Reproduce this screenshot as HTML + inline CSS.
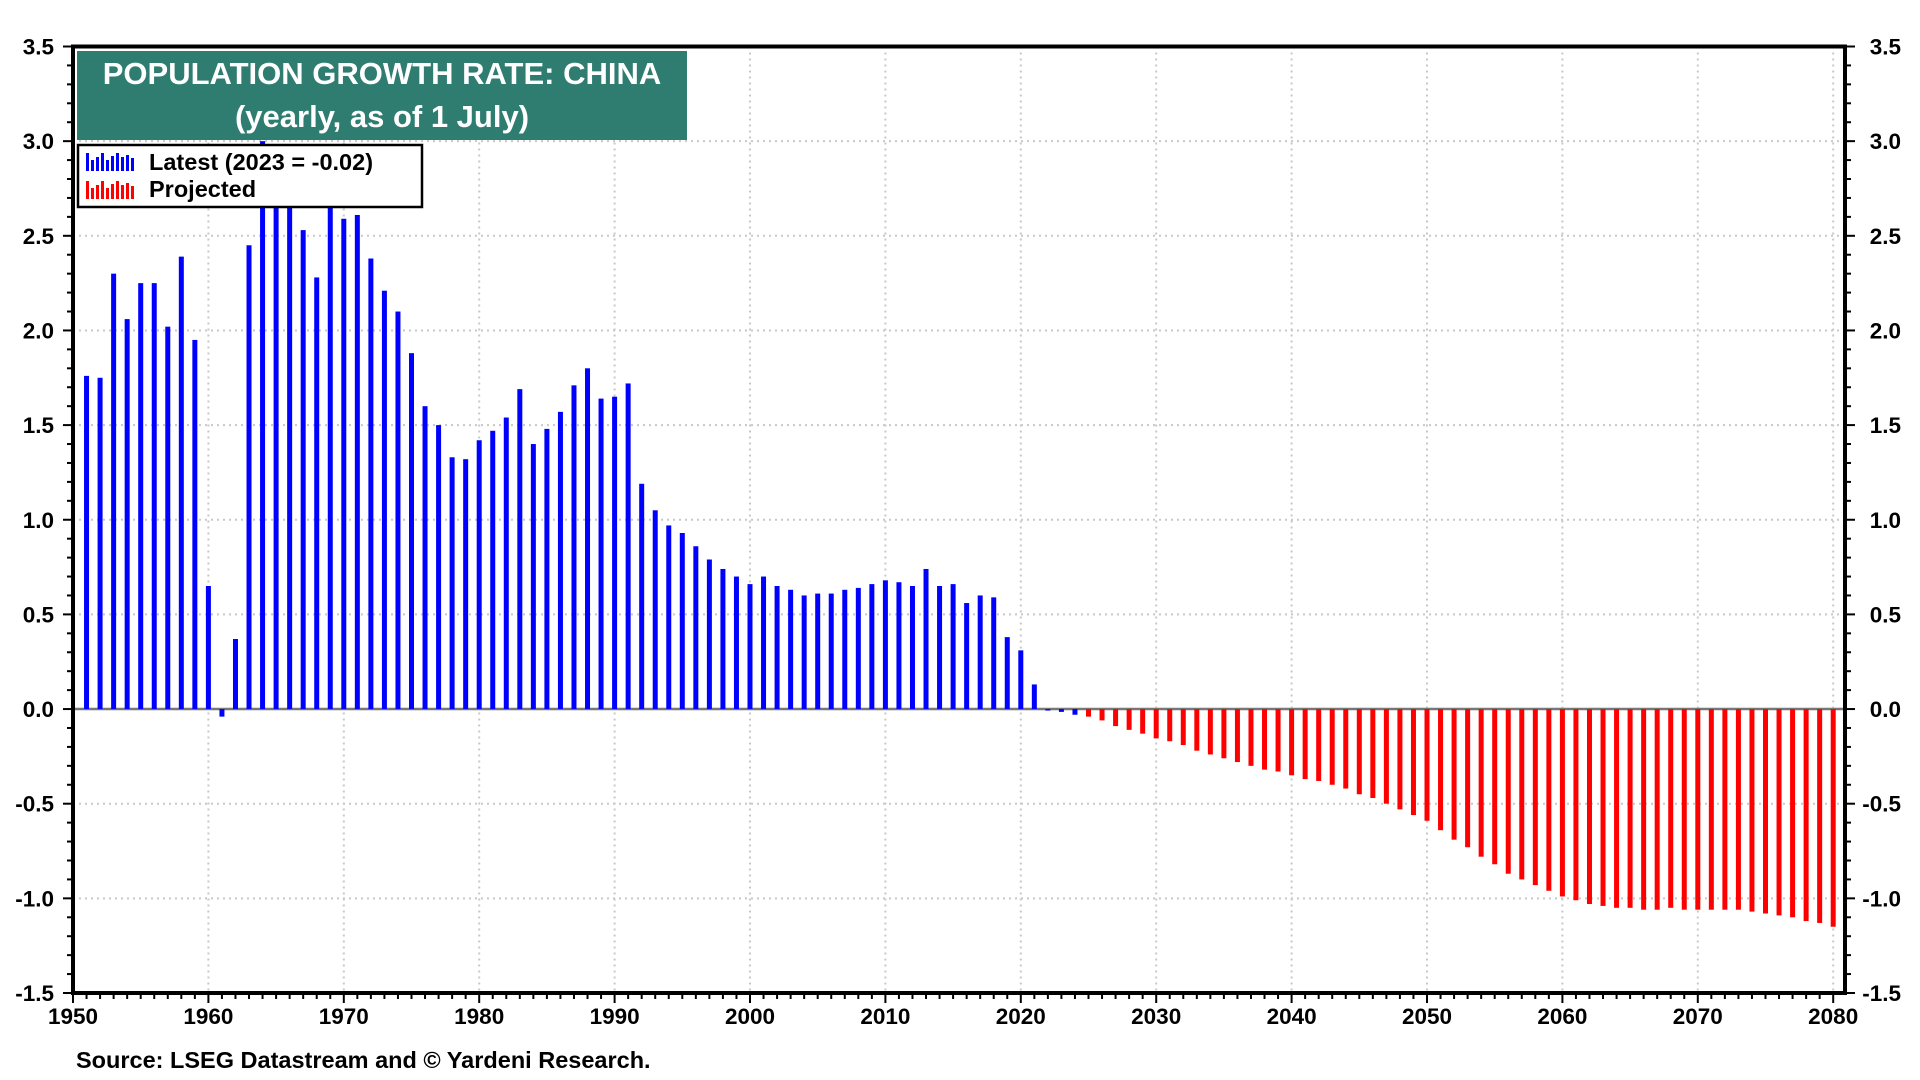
<!DOCTYPE html>
<html><head><meta charset="utf-8"><style>
html,body{margin:0;padding:0;background:#fff;}
svg{display:block;font-family:"Liberation Sans",Arial,sans-serif;font-weight:bold;}
</style></head><body>
<svg id="chart" width="1920" height="1080" viewBox="0 0 1920 1080" xmlns="http://www.w3.org/2000/svg">
<g id="grid"></g>
<g id="bars"></g>
<g id="axes"></g>
<g>
<rect x="77" y="51" width="610" height="89" fill="#2e7d70"/>
<text x="382" y="84" font-size="31" fill="#fff" text-anchor="middle">POPULATION GROWTH RATE: CHINA</text>
<text x="382" y="127" font-size="31" fill="#fff" text-anchor="middle">(yearly, as of 1 July)</text>
</g>
<g>
<rect x="78" y="145" width="344" height="62" fill="#fff" stroke="#000" stroke-width="2.5"/>
<g>
<g fill="#0000ff"><rect x="86" y="153" width="3" height="18"/><rect x="91" y="160" width="3" height="11"/><rect x="96" y="157" width="3" height="14"/><rect x="101" y="153" width="3" height="18"/><rect x="106" y="160" width="3" height="11"/><rect x="111" y="156" width="3" height="15"/><rect x="116" y="153" width="3" height="18"/><rect x="121" y="157" width="3" height="14"/><rect x="126" y="155" width="3" height="16"/><rect x="131" y="158" width="3" height="13"/></g>
<text x="149" y="170" font-size="23.5" fill="#000">Latest (2023 = -0.02)</text>
</g>
<g>
<g fill="#ff0000"><rect x="86" y="181" width="3" height="18"/><rect x="91" y="188" width="3" height="11"/><rect x="96" y="185" width="3" height="14"/><rect x="101" y="181" width="3" height="18"/><rect x="106" y="188" width="3" height="11"/><rect x="111" y="184" width="3" height="15"/><rect x="116" y="181" width="3" height="18"/><rect x="121" y="185" width="3" height="14"/><rect x="126" y="183" width="3" height="16"/><rect x="131" y="186" width="3" height="13"/></g>
<text x="149" y="197" font-size="23.5" fill="#000">Projected</text>
</g>
</g>
<text x="76" y="1068" font-size="23.5" fill="#000">Source: LSEG Datastream and © Yardeni Research.</text>
</svg>
<script>
const latestYears = [1951,1952,1953,1954,1955,1956,1957,1958,1959,1960,1961,1962,1963,1964,1965,1966,1967,1968,1969,1970,1971,1972,1973,1974,1975,1976,1977,1978,1979,1980,1981,1982,1983,1984,1985,1986,1987,1988,1989,1990,1991,1992,1993,1994,1995,1996,1997,1998,1999,2000,2001,2002,2003,2004,2005,2006,2007,2008,2009,2010,2011,2012,2013,2014,2015,2016,2017,2018,2019,2020,2021,2022,2023,2024];
const latestValues = [1.76,1.75,2.30,2.06,2.25,2.25,2.02,2.39,1.95,0.65,-0.04,0.37,2.45,3.00,2.85,2.75,2.53,2.28,2.65,2.59,2.61,2.38,2.21,2.10,1.88,1.60,1.50,1.33,1.32,1.42,1.47,1.54,1.69,1.40,1.48,1.57,1.71,1.80,1.64,1.65,1.72,1.19,1.05,0.97,0.93,0.86,0.79,0.74,0.70,0.66,0.70,0.65,0.63,0.60,0.61,0.61,0.63,0.64,0.66,0.68,0.67,0.65,0.74,0.65,0.66,0.56,0.60,0.59,0.38,0.31,0.13,-0.005,-0.015,-0.03];
const projYears = [2025,2026,2027,2028,2029,2030,2031,2032,2033,2034,2035,2036,2037,2038,2039,2040,2041,2042,2043,2044,2045,2046,2047,2048,2049,2050,2051,2052,2053,2054,2055,2056,2057,2058,2059,2060,2061,2062,2063,2064,2065,2066,2067,2068,2069,2070,2071,2072,2073,2074,2075,2076,2077,2078,2079,2080];
const projValues = [-0.04,-0.06,-0.09,-0.11,-0.13,-0.155,-0.17,-0.19,-0.22,-0.24,-0.26,-0.28,-0.30,-0.32,-0.33,-0.35,-0.37,-0.38,-0.40,-0.42,-0.45,-0.47,-0.50,-0.53,-0.56,-0.59,-0.64,-0.69,-0.73,-0.78,-0.82,-0.87,-0.90,-0.93,-0.96,-0.99,-1.01,-1.03,-1.04,-1.05,-1.05,-1.06,-1.06,-1.05,-1.06,-1.06,-1.06,-1.06,-1.06,-1.07,-1.08,-1.09,-1.10,-1.12,-1.13,-1.15];
const yTicks = ["3.5","3.0","2.5","2.0","1.5","1.0","0.5","0.0","-0.5","-1.0","-1.5"];
const xTicks = ["1950","1960","1970","1980","1990","2000","2010","2020","2030","2040","2050","2060","2070","2080"];

const NS="http://www.w3.org/2000/svg";
const L=73, R=1845, T=46.5, B=993;
const X0=1950, PX=13.54;
const Y0=3.5, Y1=-1.5;
function x(v){return L+(v-X0)*PX;}
function y(v){return T+(Y0-v)/(Y0-Y1)*(B-T);}
function mk(tag,attrs,parent){const e=document.createElementNS(NS,tag);for(const k in attrs)e.setAttribute(k,attrs[k]);parent.appendChild(e);return e;}
const grid=document.getElementById('grid'), bars=document.getElementById('bars'), axes=document.getElementById('axes');

yTicks.forEach(t=>{const v=parseFloat(t);
 const g=mk('line',{x1:L,x2:R,y1:y(v),y2:y(v),stroke:'#c8c8c8','stroke-width':2,'stroke-dasharray':'2,4'},grid);
 
 
 const a=mk('text',{x:L-19,y:y(v)+8,'font-size':22.5,'text-anchor':'end',fill:'#000'},axes);a.textContent=t;
 
 
 const b=mk('text',{x:1901,y:y(v)+8,'font-size':22.5,'text-anchor':'end',fill:'#000'},axes);b.textContent=t;
 
 
});
for(let i=0;i<=50;i++){const v=Y0-i*0.1;const big=i%5===0;
 mk('line',{x1:L-(big?10:6),x2:L,y1:y(v),y2:y(v),stroke:'#000','stroke-width':2},axes);
 mk('line',{x1:R,x2:R+(big?10:6),y1:y(v),y2:y(v),stroke:'#000','stroke-width':2},axes);
}
xTicks.forEach(t=>{const v=parseFloat(t);
 const g=mk('line',{x1:x(v),x2:x(v),y1:T,y2:B,stroke:'#c8c8c8','stroke-width':2,'stroke-dasharray':'2,4'},grid);
 
 
 const a=mk('text',{x:x(v),y:B+31,'font-size':22.5,'text-anchor':'middle',fill:'#000'},axes);a.textContent=t;
 
 
});
for(let yr=1950;yr<=2080;yr++){mk('line',{x1:x(yr),x2:x(yr),y1:B,y2:B+(yr%10===0?10:6),stroke:'#000','stroke-width':2},axes);}
const z=mk('line',{x1:L,x2:R,y1:y(0),y2:y(0),stroke:'#777','stroke-width':2.5},grid);



function drawBars(years,vals,color,name){years.forEach((yr,i)=>{const v=vals[i];const y1=Math.min(y(0),y(v)),h=Math.max(1.5,Math.abs(y(v)-y(0)));
 const r=mk('rect',{x:x(yr)-2.5,y:y1,width:5,height:h,fill:color},bars);
 
 
});}
drawBars(latestYears,latestValues,'#0000ff','latest');
drawBars(projYears,projValues,'#ff0000','projected');

const frame=mk('rect',{x:L,y:T,width:R-L,height:B-T,fill:'none',stroke:'#000','stroke-width':4},axes);


</script>
</body></html>
